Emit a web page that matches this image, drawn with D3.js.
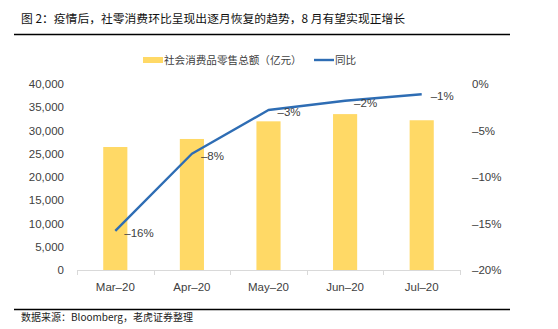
<!DOCTYPE html>
<html><head><meta charset="utf-8">
<script src="https://cdn.jsdelivr.net/npm/d3@7"></script>
<style>
html,body{margin:0;padding:0;background:#fff;}
svg{display:block;font-family:"Liberation Sans","Noto Sans CJK SC",sans-serif;}
</style></head><body>
<svg id="c" width="558" height="329"></svg>
<script>
const categories = ["Mar-20","Apr-20","May-20","Jun-20","Jul-20"];
const retailSales = [26450, 28178, 31973, 33526, 32203];
const yoy = [-15.8, -7.5, -2.8, -1.8, -1.1];
const yoyLabels = ["-16%","-8%","-3%","-2%","-1%"];
const leftTicks = [0,5000,10000,15000,20000,25000,30000,35000,40000];
const rightTicks = [0,-5,-10,-15,-20];
const title = "图 2：疫情后，社零消费环比呈现出逐月恢复的趋势，8 月有望实现正增长";
const source = "数据来源：Bloomberg，老虎证券整理";
const legendNames = ["社会消费品零售总额（亿元）","同比"];

const svg = d3.select("#c");
const CJK = '"Noto Sans CJK SC","Liberation Sans",sans-serif';
const yellow = "#FFD966", blue = "#2E6DB4", txt = "#404040";

// title
svg.append("text").attr("x",21).attr("y",23).attr("font-size",11.8).attr("font-weight",400)
  .attr("font-family",CJK).attr("fill","#111").text(title);
svg.append("line").attr("x1",14).attr("x2",510).attr("y1",34.5).attr("y2",34.5)
  .attr("stroke","#000").attr("stroke-width",1.6);
svg.append("line").attr("x1",14).attr("x2",510).attr("y1",309.5).attr("y2",309.5)
  .attr("stroke","#000").attr("stroke-width",1.6);
svg.append("text").attr("x",21).attr("y",321).attr("font-size",10)
  .attr("font-family",CJK).attr("fill","#222").text(source);

const x = d3.scaleBand().domain(categories).range([77,460]).paddingInner(0.685).paddingOuter(0.3425);
const xc = d3.scalePoint().domain(categories).range([77,460]).padding(0.5);
const yL = d3.scaleLinear().domain([0,40000]).range([270,84]);
const yR = d3.scaleLinear().domain([-20,0]).range([270,84]);

// bars
svg.append("g").selectAll("rect").data(retailSales).join("rect")
  .attr("x",(d,i)=>x(categories[i])).attr("width",x.bandwidth())
  .attr("y",d=>yL(d)).attr("height",d=>yL(0)-yL(d)).attr("fill",yellow);

// x axis
const xa = svg.append("g");
xa.append("line").attr("x1",77).attr("x2",460).attr("y1",270.5).attr("y2",270.5).attr("stroke","#d9d9d9");
const bounds = d3.range(categories.length+1).map(i=>77+i*(383/categories.length));
xa.selectAll("line.t").data(bounds).join("line").attr("class","t")
  .attr("x1",d=>Math.round(d)+0.5).attr("x2",d=>Math.round(d)+0.5).attr("y1",270).attr("y2",275).attr("stroke","#d9d9d9");
xa.selectAll("text").data(categories).join("text")
  .attr("x",d=>xc(d)).attr("y",291).attr("text-anchor","middle").attr("font-size",11.5).attr("fill",txt)
  .text(d=>d.replace("-","\u2013"));

// left axis
const fmt = d3.format(",");
svg.append("g").selectAll("text").data(leftTicks).join("text")
  .attr("x",64).attr("y",d=>yL(d)+4).attr("text-anchor","end").attr("font-size",11.5).attr("fill",txt)
  .text(d=>fmt(d));
// right axis
svg.append("g").selectAll("text").data(rightTicks).join("text")
  .attr("x",472).attr("y",d=>yR(d)+4).attr("text-anchor","start").attr("font-size",11.5).attr("fill",txt)
  .text(d=>(d<0?"\u2013"+(-d):d)+"%");

// line
const line = d3.line().x((d,i)=>xc(categories[i])).y(d=>yR(d));
svg.append("path").datum(yoy).attr("d",line).attr("fill","none")
  .attr("stroke",blue).attr("stroke-width",2.4).attr("stroke-linejoin","round");

// labels
svg.append("g").selectAll("text").data(yoy).join("text")
  .attr("x",(d,i)=>xc(categories[i])+9).attr("y",(d,i)=>yR(d)+6)
  .attr("font-size",11.5).attr("fill",txt)
  .text((d,i)=>yoyLabels[i].replace("-","\u2013"));

// legend
const lg = svg.append("g");
lg.append("rect").attr("x",143).attr("y",57).attr("width",20).attr("height",6).attr("fill",yellow);
lg.append("text").attr("x",164).attr("y",64).attr("font-size",10.6).attr("font-family",CJK).attr("fill",txt).text(legendNames[0]);
lg.append("line").attr("x1",314).attr("x2",334).attr("y1",60).attr("y2",60).attr("stroke",blue).attr("stroke-width",2.4);
lg.append("text").attr("x",335).attr("y",64).attr("font-size",10.6).attr("font-family",CJK).attr("fill",txt).text(legendNames[1]);
</script></body></html>
